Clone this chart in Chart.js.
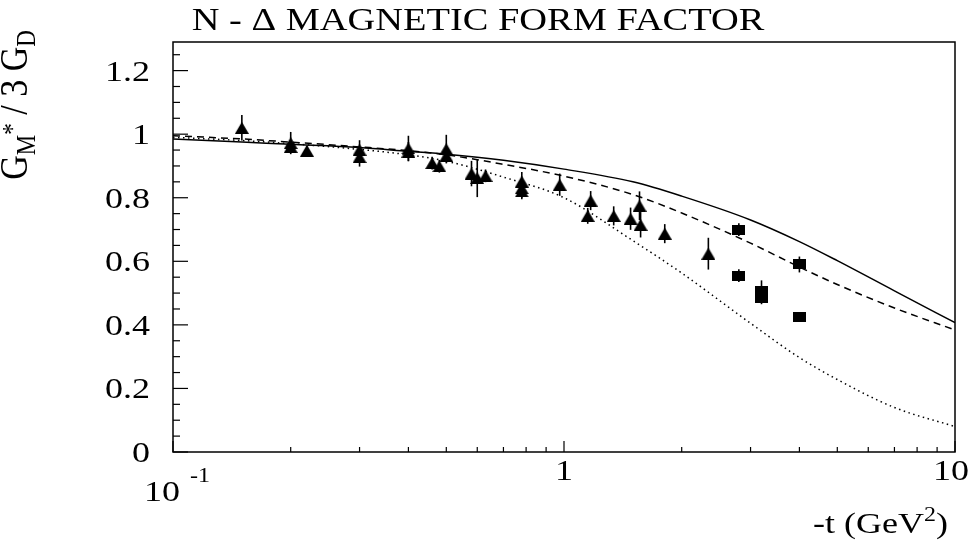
<!DOCTYPE html>
<html>
<head>
<meta charset="utf-8">
<script src="https://cdn.jsdelivr.net/npm/chart.js@4"></script>
<style>
  html, body { margin: 0; padding: 0; background: #fff; }
  #wrap { width: 975px; height: 544px; }
</style>
</head>
<body>
<div id="wrap"><canvas id="chart"></canvas></div>
<script>
// model curves at these -t values
const curveT      = [0.1, 0.15, 0.2, 0.3, 0.4, 0.5, 0.7, 1, 1.5, 2, 3, 4, 5, 7, 10];
const curveSolid  = [0.985, 0.975, 0.968, 0.958, 0.946, 0.937, 0.918, 0.89, 0.85, 0.805, 0.73, 0.662, 0.602, 0.507, 0.407];
const curveDashed = [0.995, 0.985, 0.975, 0.96, 0.948, 0.935, 0.905, 0.868, 0.81, 0.752, 0.657, 0.582, 0.527, 0.453, 0.384];
const curveDotted = [0.99, 0.98, 0.97, 0.952, 0.935, 0.915, 0.865, 0.80, 0.665, 0.563, 0.405, 0.297, 0.228, 0.14, 0.08];

// data, triangles
const triT   = [0.15, 0.2, 0.2, 0.22, 0.3, 0.3, 0.4, 0.4, 0.46, 0.48, 0.5, 0.5, 0.58, 0.6, 0.63, 0.78, 0.78, 0.78, 0.975, 1.15, 1.17, 1.34, 1.48, 1.56, 1.57, 1.81, 2.34];
const triG   = [1.02, 0.972, 0.96, 0.948, 0.951, 0.928, 0.955, 0.945, 0.909, 0.899, 0.953, 0.932, 0.876, 0.862, 0.869, 0.851, 0.83, 0.82, 0.841, 0.743, 0.791, 0.743, 0.734, 0.775, 0.715, 0.687, 0.624];
const triErr = [0.04, 0.035, 0.02, 0.015, 0.03, 0.03, 0.04, 0.03, 0.02, 0.02, 0.045, 0.02, 0.04, 0.06, 0.02, 0.03, 0.03, 0.025, 0.035, 0.025, 0.03, 0.03, 0.035, 0.045, 0.04, 0.03, 0.05];

// data, squares
const sqT   = [2.8, 2.8, 3.2, 3.2, 4.0, 4.0];
const sqG   = [0.70, 0.555, 0.505, 0.485, 0.59, 0.425];
const sqErr = [0.02, 0.02, 0.035, 0.02, 0.025, 0.015];

// axes
const yTickValues = [0, 0.2, 0.4, 0.6, 0.8, 1, 1.2];
const yTickLabels = ['0', '0.2', '0.4', '0.6', '0.8', '1', '1.2'];
const xMajor = [0.1, 1, 10];
const xMinor = [0.2, 0.3, 0.4, 0.5, 0.6, 0.7, 0.8, 0.9, 2, 3, 4, 5, 6, 7, 8, 9];

const SERIF = '"Liberation Serif", "DejaVu Serif", serif';
const SX = 1.2;

function pts(xs, ys) {
  return xs.map((x, i) => ({ x: x, y: ys[i] }));
}

// markers as small canvases (slightly wider than tall, like the picture)
function makeMarker(kind) {
  const c = document.createElement('canvas');
  const ctx = c.getContext('2d');
  if (kind === 'tri') {
    c.width = 14; c.height = 12;
    ctx.fillStyle = '#000';
    ctx.beginPath();
    ctx.moveTo(7, 0); ctx.lineTo(14, 12); ctx.lineTo(0, 12);
    ctx.closePath();
    ctx.fill();
  } else {
    c.width = 13; c.height = 10;
    ctx.fillStyle = '#000';
    ctx.fillRect(0, 0, 13, 10);
  }
  return c;
}

// text, stretched sideways like the original print
function richText(ctx, parts, x, y, align, sx, rot) {
  ctx.save();
  ctx.translate(x, y);
  ctx.scale(sx, 1);
  if (rot) ctx.rotate(rot);
  let total = 0;
  parts.forEach(p => { ctx.font = p[1] + 'px ' + SERIF; total += ctx.measureText(p[0]).width; });
  let cx = align === 'right' ? -total : align === 'center' ? -total / 2 : 0;
  ctx.textAlign = 'left';
  ctx.textBaseline = 'alphabetic';
  ctx.fillStyle = '#000';
  parts.forEach(p => {
    ctx.font = p[1] + 'px ' + SERIF;
    ctx.fillText(p[0], cx, p[2] || 0);
    cx += ctx.measureText(p[0]).width;
  });
  ctx.restore();
}

const errorBars = {
  id: 'errorBars',
  beforeDatasetsDraw(chart) {
    const { ctx, scales: { x, y } } = chart;
    ctx.save();
    ctx.strokeStyle = '#000';
    ctx.lineWidth = 1.6;
    chart.data.datasets.forEach(ds => {
      if (!ds.errors) return;
      ds.data.forEach((p, i) => {
        const px = x.getPixelForValue(p.x);
        ctx.beginPath();
        ctx.moveTo(px, y.getPixelForValue(p.y - ds.errors[i]));
        ctx.lineTo(px, y.getPixelForValue(p.y + ds.errors[i]));
        ctx.stroke();
      });
    });
    ctx.restore();
  }
};

const frameAndText = {
  id: 'frameAndText',
  afterDraw(chart) {
    const { ctx, chartArea: a, scales: { x, y } } = chart;
    ctx.save();
    ctx.strokeStyle = '#000';
    ctx.lineWidth = 1.5;
    ctx.strokeRect(a.left, a.top, a.right - a.left, a.bottom - a.top);

    // y ticks, inside, left side only
    ctx.lineWidth = 1.2;
    for (let i = 0; i <= 25; i++) {
      const py = y.getPixelForValue(i * 0.05);
      const len = i % 4 === 0 ? 15 : 7;
      ctx.beginPath();
      ctx.moveTo(a.left, py);
      ctx.lineTo(a.left + len, py);
      ctx.stroke();
    }
    // x ticks, inside, bottom only
    xMajor.concat(xMinor).forEach(v => {
      const px = x.getPixelForValue(v);
      const len = xMajor.includes(v) ? 11 : 5;
      ctx.beginPath();
      ctx.moveTo(px, a.bottom);
      ctx.lineTo(px, a.bottom - len);
      ctx.stroke();
    });
    ctx.restore();

    // tick labels
    yTickValues.forEach((v, i) => {
      richText(ctx, [[yTickLabels[i], 30, 0]], 150, y.getPixelForValue(v) + 10, 'right', SX);
    });
    richText(ctx, [['10', 30, 0]], 162, 501, 'center', SX);
    richText(ctx, [['-1', 20, 0]], 190, 482, 'left', SX);
    richText(ctx, [['1', 30, 0]], x.getPixelForValue(1), 480, 'center', SX);
    richText(ctx, [['10', 30, 0]], x.getPixelForValue(10) - 4, 480, 'center', SX);

    // titles
    richText(ctx, [['N - \u0394 MAGNETIC FORM FACTOR', 32, 0]], 478, 30, 'center', SX);
    richText(ctx, [['-t (GeV', 30, 0], ['2', 20, -12], [')', 30, 0]], 948, 533, 'right', SX);
    richText(ctx, [['G', 34, 0], ['M', 23, 7], ['*', 23, -5], [' / 3 G', 34, 0], ['D', 23, 7]],
      27, 105, 'center', SX, -Math.PI / 2);
  }
};

const curveStyle = {
  showLine: true,
  pointRadius: 0,
  borderColor: '#000',
  borderWidth: 1.5,
  cubicInterpolationMode: 'monotone',
  fill: false
};

new Chart(document.getElementById('chart'), {
  type: 'scatter',
  data: {
    datasets: [
      {
        label: 'triangles',
        data: pts(triT, triG),
        errors: triErr,
        pointStyle: makeMarker('tri'),
        pointRadius: 7
      },
      {
        label: 'squares',
        data: pts(sqT, sqG),
        errors: sqErr,
        pointStyle: makeMarker('sq'),
        pointRadius: 7
      },
      Object.assign({ label: 'solid', data: pts(curveT, curveSolid) }, curveStyle),
      Object.assign({ label: 'dashed', data: pts(curveT, curveDashed), borderDash: [7, 5] }, curveStyle),
      Object.assign({ label: 'dotted', data: pts(curveT, curveDotted), borderDash: [1.5, 3.5] }, curveStyle)
    ]
  },
  options: {
    responsive: true,
    maintainAspectRatio: false,
    animation: false,
    layout: { padding: { left: 173, right: 20, top: 42, bottom: 92 } },
    plugins: { legend: { display: false }, tooltip: { enabled: false } },
    scales: {
      x: { type: 'logarithmic', min: 0.1, max: 10, display: false },
      y: { type: 'linear', min: 0, max: 1.29, display: false }
    }
  },
  plugins: [errorBars, frameAndText]
});
</script>
</body>
</html>
